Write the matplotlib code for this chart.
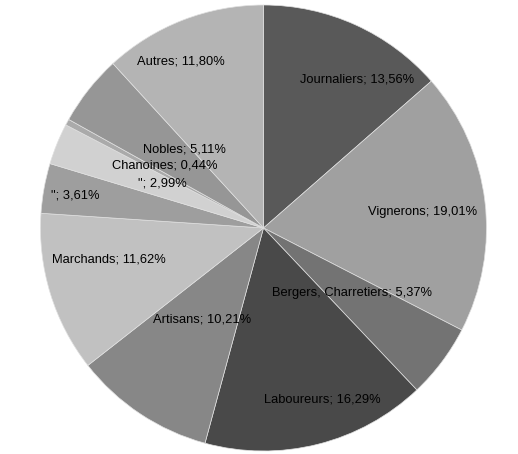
import matplotlib
matplotlib.use("Agg")
import matplotlib.pyplot as plt

# catégories, parts (%) et gris des secteurs (sens horaire depuis midi)
categories = ["Journaliers", "Vignerons", "Bergers, Charretiers", "Laboureurs",
              "Artisans", "Marchands", '"', '"', "Chanoines", "Nobles", "Autres"]
values = [13.56, 19.01, 5.37, 16.29, 10.21, 11.62, 3.61, 2.99, 0.44, 5.11, 11.80]
colors = ["#595959", "#a0a0a0", "#737373", "#494949", "#878787", "#c1c1c1",
          "#9e9e9e", "#d1d1d1", "#aaaaaa", "#969696", "#b4b4b4"]

# centres des étiquettes en pixels (x, y depuis le haut)
label_pos = [(357, 80), (423, 212), (352, 293), (322, 399), (202, 319),
             (109, 260), (75, 195), (162, 184), (165, 166), (184, 150), (181, 62)]

W, H = 518, 454
fig = plt.figure(figsize=(W / 100, H / 100), dpi=100)
ax = fig.add_axes([0, 0, 1, 1])

ax.pie(values, colors=colors, startangle=90, counterclock=False,
       center=(263.5, H - 228), radius=223, frame=True,
       wedgeprops=dict(edgecolor="#e0e0e0", linewidth=0.5))
ax.set_xlim(0, W)
ax.set_ylim(0, H)
ax.axis("off")

for cat, val, (x, y) in zip(categories, values, label_pos):
    txt = f"{cat}; {val:.2f}%".replace(".", ",")
    ax.text(x, H - y, txt, ha="center", va="center", fontsize=9.3,
            family="Liberation Sans", color="black")

fig.savefig("out.png", dpi=100)
